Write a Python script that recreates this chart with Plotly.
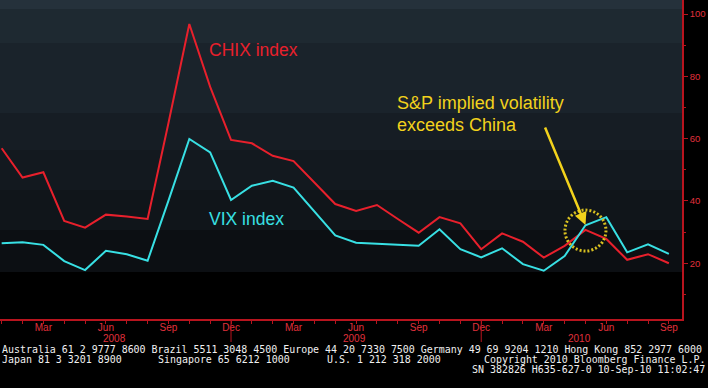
import plotly.graph_objects as go

# ---- data (monthly, Jan 2008 .. Sep 2010) ----
months = ["2008-01", "2008-02", "2008-03", "2008-04", "2008-05", "2008-06",
          "2008-07", "2008-08", "2008-09", "2008-10", "2008-11", "2008-12",
          "2009-01", "2009-02", "2009-03", "2009-04", "2009-05", "2009-06",
          "2009-07", "2009-08", "2009-09", "2009-10", "2009-11", "2009-12",
          "2010-01", "2010-02", "2010-03", "2010-04", "2010-05", "2010-06",
          "2010-07", "2010-08", "2010-09"]
chix = [56.9, 47.5, 49.2, 33.6, 31.4, 35.6, 35.0, 34.2, 65.0, 96.8, 76.6, 59.6,
        58.5, 54.5, 52.8, 45.8, 39.0, 36.8, 38.7, 34.2, 29.8, 34.8, 32.8, 24.5,
        29.6, 26.9, 21.8, 25.6, 30.7, 27.8, 21.1, 22.9, 20.0]
vix = [26.4, 26.7, 25.9, 20.7, 17.8, 24.0, 22.9, 20.8, 40.1, 59.9, 55.6, 40.3,
       44.9, 46.5, 44.3, 36.6, 28.9, 26.6, 26.2, 25.9, 25.6, 30.9, 24.5, 21.9,
       24.8, 19.7, 17.6, 22.3, 32.2, 34.8, 23.5, 26.1, 23.0]
month_names = {"03": "Mar", "06": "Jun", "09": "Sep", "12": "Dec"}
years = ["2008", "2009", "2010"]
y_ticks = [20, 40, 60, 80, 100]

footer1 = "Australia 61 2 9777 8600 Brazil 5511 3048 4500 Europe 44 20 7330 7500 Germany 49 69 9204 1210 Hong Kong 852 2977 6000"
footer2 = ["Japan 81 3 3201 8900", "Singapore 65 6212 1000", "U.S. 1 212 318 2000"]
copyright_txt = "Copyright 2010 Bloomberg Finance L.P."
sn_txt = "SN 382826 H635-627-0 10-Sep-10 11:02:47"

x = list(range(len(months)))
tickvals = [i for i, m in enumerate(months) if m[5:] in month_names]
ticktext = [month_names[months[i][5:]] for i in tickvals]
dec_idx = [i for i, m in enumerate(months) if m[5:] == "12"]

W, H = 708, 388
PW, PH = 682, 319

def PX(px):
    return px / PW

def PY(py):
    return (PH - py) / PH

RED = "#e8202c"
CYAN = "#38e0e4"
YEL = "#f2d21c"
AXRED = "#b8141e"
LBLRED = "#e0303c"
SANS = "Liberation Sans, Arial"

fig = go.Figure()
fig.add_trace(go.Scatter(x=x, y=chix, mode="lines", line=dict(color=RED, width=2),
                         name="CHIX", hoverinfo="skip"))
fig.add_trace(go.Scatter(x=x, y=vix, mode="lines", line=dict(color=CYAN, width=2),
                         name="VIX", hoverinfo="skip"))

# background bands
bands = [(0, 9, "#25313b"), (9, 43, "#1e2931"), (43, 113, "#1a232b"),
         (113, 150, "#161d24"), (150, 190, "#13191f"), (190, 230, "#10151a"),
         (230, 272, "#0c0f13")]
shapes = []
for y0, y1, c in bands:
    shapes.append(dict(type="rect", xref="paper", yref="paper", x0=0, x1=1,
                       y0=PY(y1), y1=PY(y0), fillcolor=c, line=dict(width=0),
                       layer="below"))
for d in dec_idx:
    shapes.append(dict(type="line", xref="x", yref="paper", x0=d, x1=d,
                       y0=0, y1=PY(342), line=dict(color=AXRED, width=1)))
# dotted circle
shapes.append(dict(type="circle", xref="x", yref="y", xsizemode="pixel",
                   ysizemode="pixel", xanchor=28, yanchor=30.5,
                   x0=-20.5, x1=20.5, y0=-20.5, y1=20.5,
                   line=dict(color="#d8c020", width=3, dash="2px,2px")))

ann = []
def text(t, px, py, color, size, font=SANS, xanchor="left"):
    ann.append(dict(text=t, xref="paper", yref="paper", x=PX(px), y=PY(py),
                    xanchor=xanchor, yanchor="middle", showarrow=False,
                    borderpad=0,
                    font=dict(color=color, size=size, family=font)))

text("CHIX index", 208, 50, RED, 17.5)
text("VIX index", 208, 219, CYAN, 17.5)
text("S&P implied volatility", 396, 103, YEL, 18)
text("exceeds China", 396, 125, YEL, 18)

# arrow
ann.append(dict(text="", x=28, y=32.3, xref="x", yref="y", ax=-41, ay=-99,
                axref="pixel", ayref="pixel", showarrow=True, arrowhead=2,
                arrowsize=1, arrowwidth=2.5, arrowcolor=YEL))

# year labels
for yr, xi in zip(years, [5.4, 16.9, 27.7]):
    ann.append(dict(text=yr, xref="x", yref="paper", x=xi, y=PY(338.5),
                    xanchor="center", yanchor="middle", showarrow=False,
                    borderpad=0,
                    font=dict(color=LBLRED, size=10, family=SANS)))

MONO = "DejaVu Sans Mono"
text(footer1, 1, 349.5, "#f0f0f0", 9.95, MONO)
for t, px in zip(footer2, [1, 157, 326]):
    text(t, px, 359.5, "#f0f0f0", 9.95, MONO)
text(copyright_txt, 706, 359.5, "#f0f0f0", 9.95, MONO, xanchor="right")
text(sn_txt, 706, 369.5, "#f0f0f0", 9.95, MONO, xanchor="right")

fig.update_layout(
    width=W, height=H,
    margin=dict(l=0, r=W - PW, t=0, b=H - PH, pad=0),
    paper_bgcolor="#000000", plot_bgcolor="#000000",
    showlegend=False,
    shapes=shapes, annotations=ann,
    xaxis=dict(range=[-0.08, 32.63], showgrid=False, zeroline=False,
               showline=True, linecolor=AXRED, linewidth=1.5,
               tickvals=tickvals, ticktext=ticktext, ticks="outside",
               ticklen=3, tickcolor=AXRED, ticklabelstandoff=-5,
               minor=dict(dtick=1, tick0=0, ticks="outside", ticklen=3,
                          tickcolor=AXRED),
               tickfont=dict(color=LBLRED, size=10, family=SANS)),
    yaxis=dict(range=[2.1, 104.5], side="right", showgrid=False, zeroline=False,
               showline=True, linecolor=AXRED, linewidth=1.5,
               tickvals=y_ticks, ticks="outside", ticklen=4, tickcolor=AXRED,
               minor=dict(dtick=10, tick0=0, ticks="outside", ticklen=2,
                          tickcolor=AXRED),
               tickfont=dict(color=LBLRED, size=9.5, family=SANS)),
)

fig.write_html("out.html", config={"displayModeBar": False},
               post_script="document.body.style.margin='0';"
                           "document.body.style.background='#000';")
